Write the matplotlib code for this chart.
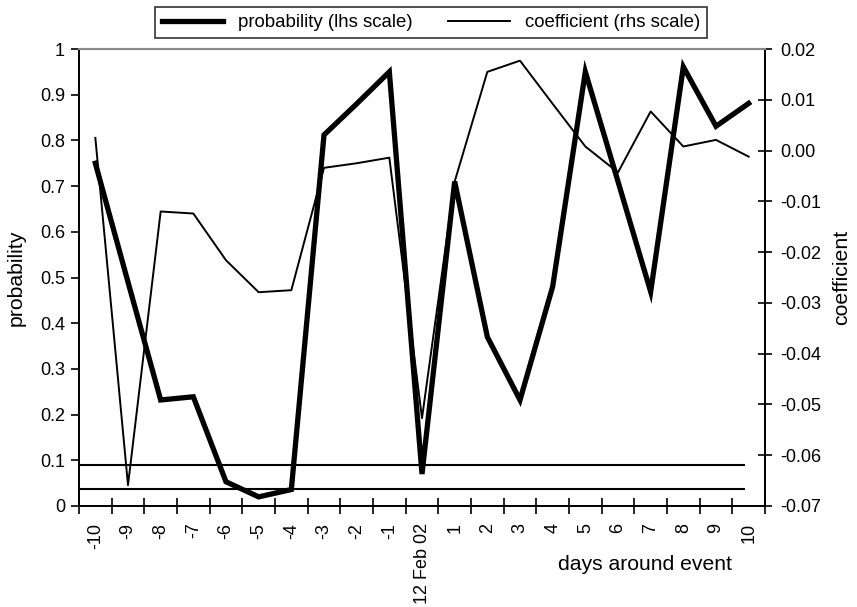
import matplotlib
matplotlib.use("Agg")
import matplotlib.pyplot as plt
import numpy as np
from matplotlib.ticker import FixedLocator, FuncFormatter

plt.rcParams['font.family'] = ['Liberation Sans', 'DejaVu Sans']

days = ['-10', '-9', '-8', '-7', '-6', '-5', '-4', '-3', '-2', '-1', '12 Feb 02',
        '1', '2', '3', '4', '5', '6', '7', '8', '9', '10']
probability = [0.75, 0.49, 0.232, 0.239, 0.053, 0.02, 0.036, 0.812, 0.88, 0.95, 0.07,
               0.71, 0.37, 0.232, 0.48, 0.95, 0.71, 0.469, 0.961, 0.831, 0.881]
coefficient = [0.0025, -0.0659, -0.012, -0.0124, -0.0216, -0.0279, -0.0275, -0.0034,
               -0.0025, -0.0014, -0.0527, -0.0061, 0.0155, 0.0177, 0.0092, 0.0008,
               -0.0043, 0.0077, 0.0008, 0.0021, -0.0012]
thresholds = [0.09, 0.038]

fig = plt.figure(figsize=(8.57, 6.07), dpi=100)
ax = fig.add_axes([79/857, 1-506/607, (765-79)/857, (506-49)/607])
ax2 = ax.twinx()

x = np.arange(len(days))
ax.hlines(thresholds, -0.5, x[-1] - 0.1, color='black', lw=1.5)
l1, = ax.plot(x, probability, color='black', lw=3.8, solid_joinstyle='miter',
              label='probability (lhs scale)')
l2, = ax2.plot(x, coefficient, color='black', lw=1.4,
               label='coefficient (rhs scale)')

ax.set_xlim(-0.5, len(days) - 0.5)
ax.set_ylim(0, 1)
ax2.set_ylim(-0.07, 0.02)

ax.set_xticks(x)
ax.set_xticklabels(days, rotation=90, fontsize=13)
ax.tick_params(axis='x', which='major', length=0, pad=12)
ax.xaxis.set_minor_locator(FixedLocator(np.arange(-0.5, len(days), 1.0)))
ax.tick_params(axis='x', which='minor', length=12, direction='inout', width=1.2)

yt = np.round(np.arange(0, 1.01, 0.1), 1)
ax.set_yticks(yt)
ax.yaxis.set_major_formatter(FuncFormatter(lambda v, p: '%g' % round(v, 1)))
ax.tick_params(axis='y', length=6, width=1.2, labelsize=13, pad=4)

y2t = np.round(np.arange(-0.07, 0.0201, 0.01), 2)
ax2.set_yticks(y2t)
ax2.yaxis.set_major_formatter(FuncFormatter(lambda v, p: '%.2f' % (0 if abs(v) < 1e-9 else v)))
ax2.tick_params(axis='y', length=10, width=1.2, direction='inout', labelsize=13, pad=6)

for a in (ax, ax2):
    a.spines['top'].set_color('#888888')
    a.spines['top'].set_linewidth(1.5)
    for s in ('left', 'right', 'bottom'):
        a.spines[s].set_linewidth(1.3)

ax.set_ylabel('probability', fontsize=15.3, labelpad=10)
ax2.set_ylabel('coefficient', fontsize=15.3, labelpad=8)
fig.text(645/857, 1-565/607, 'days around event', fontsize=15.2, ha='center', va='center')

leg = fig.legend(handles=[l1, l2], loc='center', bbox_to_anchor=(431/857, 1-22.5/607),
                 ncol=2, fontsize=13.4, frameon=True, fancybox=False, edgecolor='black',
                 handlelength=3.3, columnspacing=1.9, borderpad=0.4, borderaxespad=0.3)
leg.get_frame().set_linewidth(1.2)

fig.savefig('out.png', dpi=100)
